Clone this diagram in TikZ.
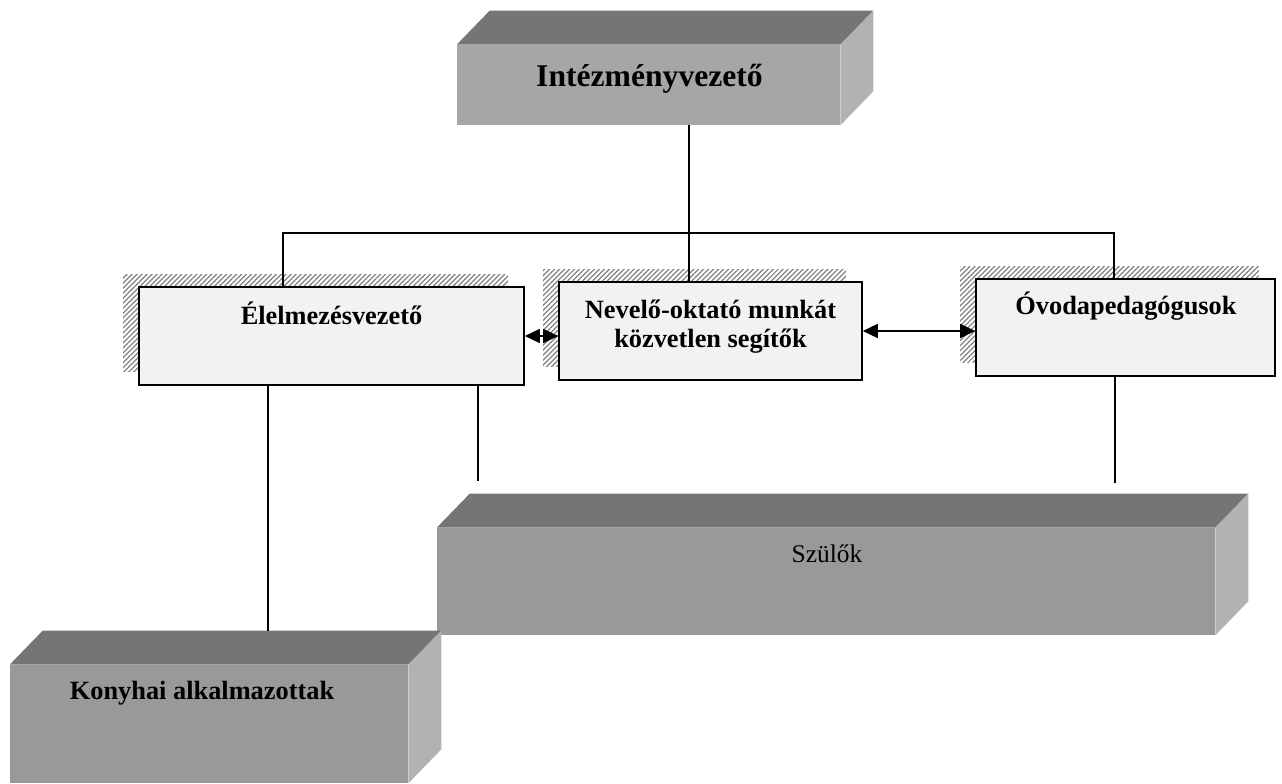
\documentclass[tikz,border=0pt]{standalone}
\usepackage{fontspec}
\setmainfont{Liberation Serif}
\usetikzlibrary{arrows.meta, positioning, calc, shadows, patterns.meta}

\begin{document}
\begin{tikzpicture}[x=0.02cm, y=-0.02cm,
  solid3d/.style={fill=black!40, inner sep=0pt},
  topface/.style={fill=black!54},
  sideface/.style={fill=black!30},
  flatbox/.style={draw=black, line width=1pt, fill=black!5, inner sep=0pt,
    general shadow={shadow xshift=-0.32cm, shadow yshift=0.26cm,
      pattern={Lines[angle=45, distance=2pt, line width=0.7pt]}, pattern color=black!50}},
  boxtext/.style={font=\fontsize{15}{16.5}\selectfont\bfseries},
  link/.style={line width=0.75pt},
  biarrow/.style={link, {Triangle[length=8.5pt,width=8pt]}-{Triangle[length=8.5pt,width=8pt]}}]
\useasboundingbox (0,0) rectangle (1282,784);

% Front faces
\node[solid3d, fill=black!35, minimum width=7.66cm, minimum height=1.6cm] (boss) at (648.5,85) {};
\node[solid3d, minimum width=15.56cm, minimum height=2.14cm] (szulok) at (826,581.5) {};
\node[solid3d, minimum width=7.96cm, minimum height=2.36cm] (konyha) at (209,724) {};
\node[flatbox, minimum width=7.7cm, minimum height=1.96cm] (elel) at (331.5,336) {};
\node[flatbox, minimum width=6.06cm, minimum height=1.96cm] (nev) at (710.5,331) {};
\node[flatbox, minimum width=5.98cm, minimum height=1.94cm] (ovoda) at (1125.5,327.5) {};

% Top and side faces of the blocks
\foreach \n in {boss,szulok,konyha} {
  \fill[topface] (\n.north west) -- ++(33,-34) -- ($(\n.north east)+(33,-34)$) -- (\n.north east) -- cycle;
  \fill[sideface] (\n.north east) -- ++(33,-34) -- ($(\n.south east)+(33,-34)$) -- (\n.south east) -- cycle;
}

% Labels
\node[boxtext, font=\fontsize{18}{20}\selectfont\bfseries, anchor=base] (bosslbl) at ($(boss.north)+(1,42)$) {Intézményvezető};
\node[boxtext, anchor=base] (elellbl) at ($(elel.north)+(0,38)$) {Élelmezésvezető};
\node[boxtext, align=center] (nevlbl) at ($(nev.center)+(0,-4)$) {Nevelő-oktató munkát\\közvetlen segítők};
\node[boxtext, anchor=base] (ovodalbl) at ($(ovoda.north)+(0.5,36)$) {Óvodapedagógusok};
\node[font=\fontsize{14.5}{16}\selectfont, anchor=base] (szuloklbl) at ($(szulok.north)+(1,35)$) {Szülők};
\node[boxtext, anchor=base] (konyhalbl) at ($(konyha.north)+(-7,35)$) {Konyhai alkalmazottak};

% Connectors
\coordinate (trunk) at (689,233);
\coordinate (busL) at (283,233);
\coordinate (busR) at (1114,233);
\coordinate (kdrop) at (268,631);
\coordinate (pend1) at (478,481);
\coordinate (pend2) at (1115,483);
\draw[link] (trunk |- boss.south) -- (trunk |- nev.north);
\draw[link] (busL |- elel.north) -- (busL) -- (busR) -- (busR |- ovoda.north);
\draw[link] (kdrop |- elel.south) -- (kdrop);
\draw[link] (pend1 |- elel.south) -- (pend1);
\draw[link] (pend2 |- ovoda.south) -- (pend2);
\draw[biarrow] (elel.east) -- (elel.east -| nev.west);
\draw[biarrow] (nev.east) -- (nev.east -| ovoda.west);
\end{tikzpicture}
\end{document}
